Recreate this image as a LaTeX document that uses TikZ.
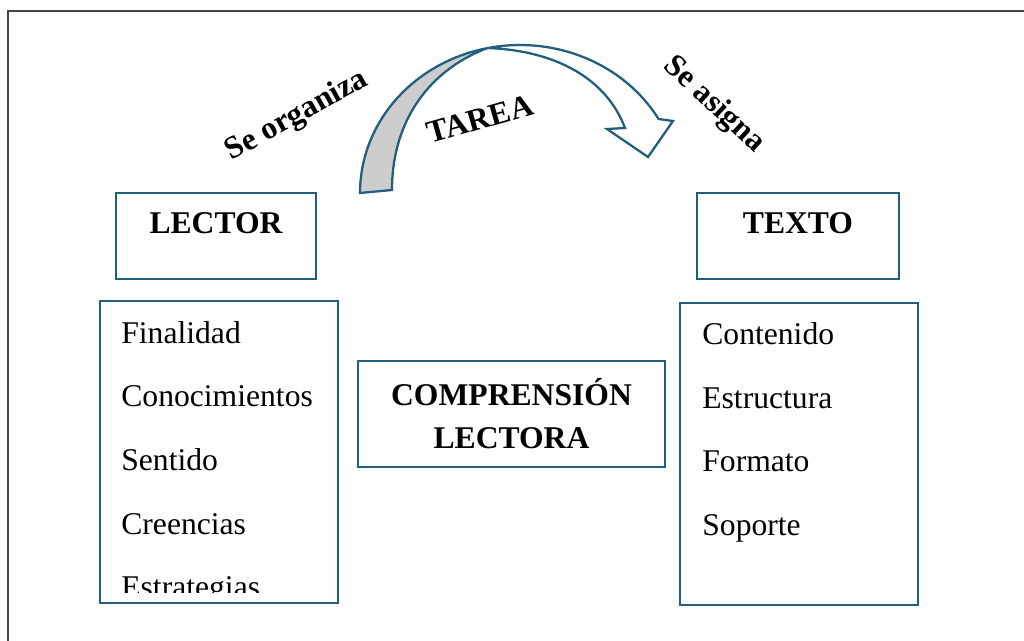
\documentclass[tikz,border=0pt]{standalone}
\usepackage{fontspec}
\setmainfont{Liberation Serif}
\usepackage{tikz}
\usepackage{xcolor}
\usetikzlibrary{calc}
\usetikzlibrary{positioning}

\definecolor{boxblue}{RGB}{33,95,125}
\definecolor{backgray}{RGB}{205,205,205}
\definecolor{framegray}{RGB}{70,70,70}

\begin{document}
\begin{tikzpicture}[x=0.02cm, y=-0.02cm,
    box/.style={draw=boxblue, line width=1.3pt, inner sep=0pt},
    titlebox/.style={box, minimum width=4cm, text height=0.8cm, text depth=0.92cm,
      font=\fontsize{18}{21}\selectfont\bfseries},
    listbox/.style={box, minimum width=4.76cm, minimum height=6.04cm},
    item/.style={anchor=base west, inner sep=0pt, font=\fontsize{18}{21}\selectfont},
    tag/.style={inner sep=0pt, font=\fontsize{18}{21}\selectfont\bfseries}]
  \useasboundingbox (0,0) rectangle (1024,641);
  \draw[framegray, line width=1.1pt] (8,641) -- (8,11) -- (1024,11);

  % curved arrow, back side grey
  \coordinate (cross) at (487,48);
  \filldraw[boxblue, fill=backgray, line width=1.3pt]
    plot[domain=180:101.9, samples=40] ({520+160*cos(\x)}, {193-148*sin(\x)})
    .. controls (430,70) and (392,120) .. (392,190) -- cycle;
  \filldraw[boxblue, fill=white, line width=1.3pt, line join=miter]
    plot[domain=101.9:30, samples=40] ({520+160*cos(\x)}, {193-148*sin(\x)})
    -- (673,121) -- (648,157) -- (607,129) -- (625,128)
    .. controls (605,75) and (550,50) .. (cross) -- cycle;

  \node[tag, rotate=29] (org) at (297,116) {Se organiza};
  \node[tag, rotate=16] (tarea) at (480,119) {TAREA};
  \node[tag, rotate=-43] (asig) at (714,105) {Se asigna};

  % top boxes
  \node[titlebox, anchor=north] (lector) at (216,192) {LECTOR};
  \node[titlebox, anchor=north, minimum width=4.04cm] (texto) at (798,192) {TEXTO};

  % lists
  \begin{scope}
    \clip (100,301) rectangle (338,592);
    \foreach \t [count=\i] in {Finalidad,Conocimientos,Sentido,Creencias,Estrategias}
      \node[item] (lec\i) at (121, {343.3+63.6*(\i-1)}) {\t};
  \end{scope}
  \node[listbox] (lecbox) at (219,452) {};

  \foreach \t [count=\i] in {Contenido,Estructura,Formato,Soporte}
    \node[item] (tex\i) at (702, {344.5+63.6*(\i-1)}) {\t};
  \node[listbox] (texbox) at (799,454) {};

  \node[box, minimum width=6.14cm, minimum height=2.12cm, align=center,
    font=\fontsize{18}{24.5}\selectfont\bfseries] (comp) at (511.5,414) {COMPRENSIÓN\\LECTORA};
\end{tikzpicture}
\end{document}
